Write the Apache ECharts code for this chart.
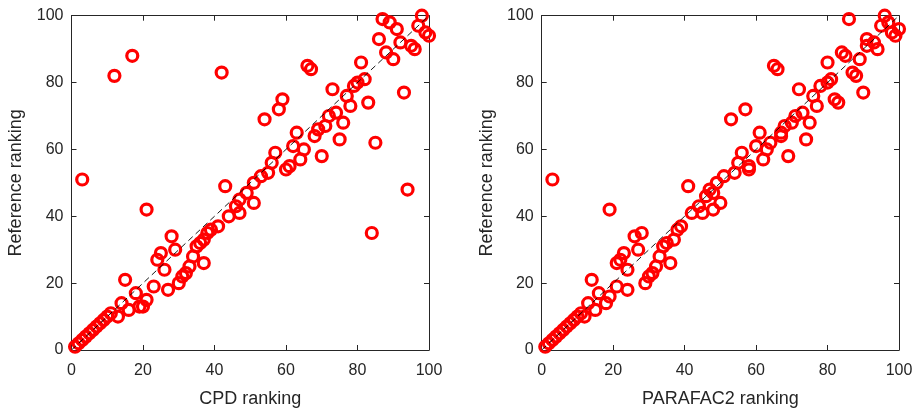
<!DOCTYPE html>
<html>
<head>
<meta charset="utf-8">
<script src="https://cdn.jsdelivr.net/npm/echarts@6/dist/echarts.min.js"></script>
<style>
  html, body { margin: 0; padding: 0; background: #fff; }
  #chart { width: 920px; height: 413px; }
</style>
</head>
<body>
<div id="chart"></div>
<script>
// Rank pairs: [method ranking, reference ranking]
const cpdPoints = [
  [1,1],[2,2],[3,3],[4,4],[5,5],[6,6],[7,7],[8,8],[9,9],[10,10],[11,11],[13,10],
  [14,14],[16,12],[19,13],[15,21],[18,17],[21,15],[20,13],[23,19],[27,18],[26,24],
  [24,27],[25,29],[28,34],[29,30],[30,20],[31,22],[32,23],[33,25],[34,28],[37,26],
  [35,31],[36,32],[37,33],[38,35],[39,36],[41,37],[44,40],[47,41],[46,43],[47,45],
  [49,47],[51,44],[51,50],[53,52],[55,53],[56,56],[57,59],[60,54],[61,55],[62,61],
  [64,57],[65,60],[63,65],[68,64],[69,66],[70,58],[71,67],[72,70],[74,71],[76,68],
  [75,63],[73,78],[77,76],[78,73],[79,79],[80,80],[82,81],[83,74],[85,62],[84,35],
  [93,77],[94,48],[86,93],[87,99],[89,98],[91,96],[88,89],[90,87],[92,92],[95,91],
  [96,90],[97,97],[98,100],[99,95],[100,94],[81,86],[66,85],[67,84],[58,72],[59,75],
  [54,69],[43,49],[42,83],[12,82],[17,88],[3,51],[21,42]
];
const parafac2Points = [
  [1,1],[2,2],[3,3],[4,4],[5,5],[6,6],[7,7],[8,8],[9,9],[10,10],[11,11],[12,10],
  [13,14],[15,12],[18,14],[19,16],[14,21],[16,17],[21,19],[24,18],[24,24],[21,26],
  [22,27],[23,29],[26,34],[28,35],[27,30],[29,20],[30,22],[31,23],[32,25],[33,28],
  [36,26],[34,31],[35,32],[37,33],[38,36],[39,37],[41,49],[42,41],[44,43],[45,41],
  [46,46],[47,48],[48,47],[50,44],[48,42],[49,50],[51,52],[54,53],[55,56],[56,59],
  [58,55],[58,54],[60,61],[62,57],[63,60],[61,65],[64,62],[67,64],[67,65],[68,67],
  [69,58],[70,68],[71,70],[73,71],[75,68],[74,63],[72,78],[76,76],[77,73],[78,79],
  [80,80],[81,81],[82,75],[83,74],[90,77],[87,83],[88,82],[89,87],[84,89],[85,88],
  [80,86],[91,93],[93,92],[91,91],[94,90],[86,99],[96,100],[97,98],[95,97],[100,96],
  [99,94],[98,95],[65,85],[66,84],[57,72],[53,69],[19,42],[3,51]
];
const identityLine = [[0,0],[100,100]];
const xTitles = ['CPD ranking', 'PARAFAC2 ranking'];
const yTitle = 'Reference ranking';

const ink = '#262626';
const font = 'Liberation Sans, Arial, Helvetica, sans-serif';

const grids = [
  { left: 71.5, top: 15.7, width: 357.5, height: 336.3 },
  { left: 541.7, top: 15.7, width: 357.3, height: 336.3 }
];

function mainAxis(gridIndex, position, name) {
  const horizontal = position === 'bottom';
  return {
    type: 'value', gridIndex, position, min: 0, max: 100, interval: 20,
    name, nameLocation: 'middle', nameGap: horizontal ? 40 : 46,
    nameTextStyle: { fontSize: 18, color: ink, fontFamily: font },
    axisLine: { show: true, lineStyle: { color: ink, width: 1 } },
    axisTick: { show: true, inside: true, length: 5, lineStyle: { color: ink } },
    axisLabel: { show: true, fontSize: 16, color: ink, fontFamily: font, margin: horizontal ? 13 : 8 },
    splitLine: { show: false }
  };
}
function boxAxis(gridIndex, position) {
  return {
    type: 'value', gridIndex, position, min: 0, max: 100, interval: 20,
    axisLine: { show: true, onZero: false, lineStyle: { color: ink, width: 1 } },
    axisTick: { show: true, inside: true, length: 5, lineStyle: { color: ink } },
    axisLabel: { show: false },
    splitLine: { show: false }
  };
}

const xAxis = [], yAxis = [], series = [];
[cpdPoints, parafac2Points].forEach((pts, i) => {
  xAxis.push(mainAxis(i, 'bottom', xTitles[i]));
  yAxis.push(mainAxis(i, 'left', yTitle));
  xAxis.push(boxAxis(i, 'top'));
  yAxis.push(boxAxis(i, 'right'));
  const xi = i * 2, yi = i * 2;
  series.push({
    type: 'scatter', xAxisIndex: xi, yAxisIndex: yi, data: pts,
    symbol: 'circle', symbolSize: 11, z: 2,
    itemStyle: { color: 'rgba(0,0,0,0)', borderColor: '#ff0000', borderWidth: 3.2, opacity: 1 },
    emphasis: { disabled: true }
  });
  series.push({
    type: 'line', xAxisIndex: xi, yAxisIndex: yi, data: identityLine,
    symbol: 'none', z: 3, silent: true,
    lineStyle: { color: '#000', width: 0.9, type: [6, 4] }
  });
});

const chart = echarts.init(document.getElementById('chart'), null, { renderer: 'canvas' });
chart.setOption({
  animation: false,
  backgroundColor: '#fff',
  grid: grids,
  xAxis, yAxis, series
});
</script>
</body>
</html>
